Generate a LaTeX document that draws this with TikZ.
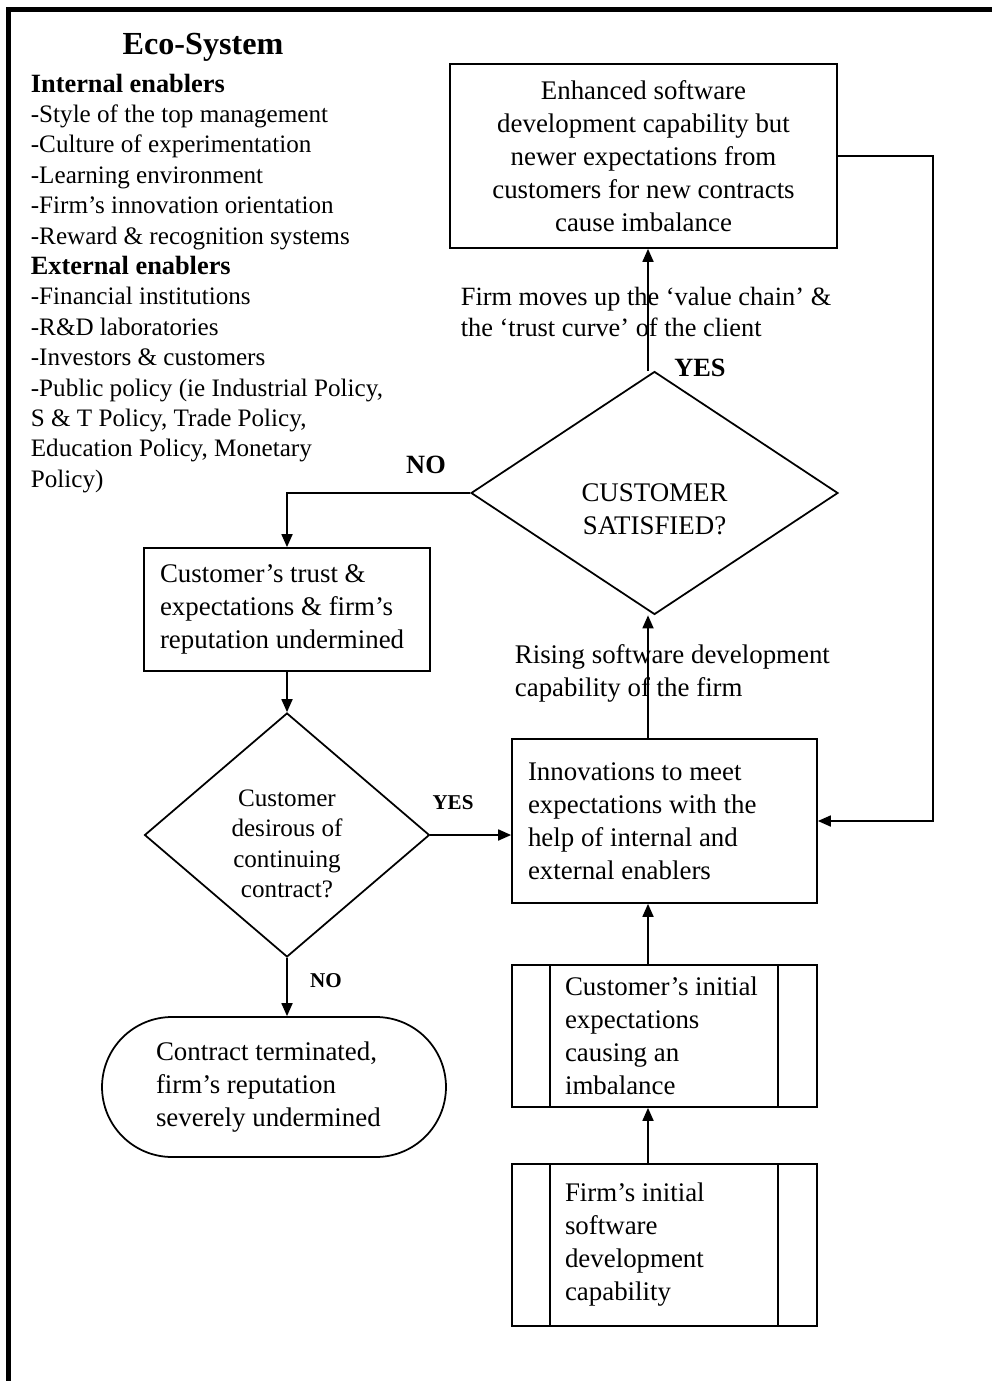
\documentclass[tikz,border=0pt]{standalone}
\usepackage{fontspec}
\setmainfont{Liberation Serif}
\usetikzlibrary{arrows.meta, positioning, shapes.geometric}
\newcommand{\boxfont}{\fontsize{15.3}{18.8}\selectfont}
\newcommand{\listfont}{\fontsize{14.3}{17.3}\selectfont}
\tikzset{
  box/.style={draw, rectangle, font=\boxfont, inner sep=0pt},
  process/.style={box, align=flush left, text width=3.98cm, inner xsep=1.06cm, path picture={
      \draw ([xshift=0.76cm]path picture bounding box.north west) -- ([xshift=0.76cm]path picture bounding box.south west);
      \draw ([xshift=-0.78cm]path picture bounding box.north east) -- ([xshift=-0.78cm]path picture bounding box.south east);}},
  decision/.style={draw, diamond, inner sep=0pt},
  arrowlabel/.style={font=\boxfont, align=left, inner sep=0pt},
  answer/.style={font=\fontsize{15}{17}\selectfont\bfseries, inner sep=0pt},
  answersmall/.style={font=\fontsize{12}{14}\selectfont\bfseries, inner sep=0pt}
}

\begin{document}
\begin{tikzpicture}[x=0.02cm, y=-0.02cm, line width=1pt, >={Triangle[length=0.26cm,width=0.22cm]}]
\useasboundingbox (0,0) rectangle (992,1381);
%frame
\draw[line width=0.1cm] (8.5,1381) -- (8.5,9.5) -- (992,9.5);
%eco-system list
\node[font=\fontsize{18.3}{22}\selectfont\bfseries, inner sep=0pt] (eco) at (203,47) {Eco-System};
\node[font=\listfont, align=left, anchor=north west, inner sep=0pt] (enablers) at (30,73) {{\fontsize{15}{17.3}\selectfont\bfseries Internal enablers}\\-Style of the top management\\-Culture of experimentation\\-Learning environment\\-Firm's innovation orientation\\-Reward \& recognition systems\\{\fontsize{15}{17.3}\selectfont\bfseries External enablers}\\-Financial institutions\\-R\&D laboratories\\-Investors \& customers\\-Public policy (ie Industrial Policy,\\S \& T Policy, Trade Policy,\\Education Policy, Monetary\\Policy)};
%boxes and decisions
\node[box, align=center, minimum width=7.74cm, minimum height=3.68cm] (enhanced) at (643.5,156) {Enhanced software\\development capability but\\newer expectations from\\customers for new contracts\\cause imbalance};
\node[decision, minimum width=7.34cm, minimum height=4.86cm] (satisfied) at (654.5,493) {};
\node[font=\boxfont, align=center, inner sep=0pt] (satisfiedtext) at (654.5,509) {CUSTOMER\\SATISFIED?};
\node[box, align=flush left, text width=5.08cm, inner xsep=0.32cm, minimum height=2.46cm] (trust) at (287,609.5) {Customer's trust \&\\expectations \& firm's\\reputation undermined};
\node[decision, minimum width=5.7cm, minimum height=4.88cm] (desirous) at (287,835) {};
\node[font=\listfont, align=center, inner sep=0pt] (desiroustext) at (287,844) {Customer\\desirous of\\continuing\\contract?};
\node[box, rounded corners=1.4cm, align=flush left, text width=4.72cm, inner xsep=1.08cm, minimum height=2.8cm] (terminated) at (274,1087) {Contract terminated,\\firm's reputation\\severely undermined};
\node[box, align=flush left, text width=5.46cm, inner xsep=0.32cm, minimum height=3.28cm] (innovations) at (664.5,821) {Innovations to meet\\expectations with the\\help of internal and\\external enablers};
\node[process, minimum height=2.84cm] (custinitial) at (664.5,1036) {Customer's initial\\expectations\\causing an\\imbalance};
\node[process, minimum height=3.24cm] (firminitial) at (664.5,1245) {Firm's initial\\software\\development\\capability};
%labels
\node[arrowlabel, font=\fontsize{15}{17.2}\selectfont, anchor=west] (chain) at (460,312) {Firm moves up the `value chain' \&\\the `trust curve' of the client};
\node[arrowlabel, anchor=west] (rising) at (514,673) {Rising software development\\capability of the firm};
\node[answer] (yestop) at (700,368) {YES};
\node[answer] (notop) at (426,465) {NO};
\node[answersmall] (yesbottom) at (453,803) {YES};
\node[answersmall] (nobottom) at (326,981) {NO};
%connectors
\coordinate (spine) at (648,0);
\coordinate (loop) at (933,0);
\draw[->] (satisfied.north -| spine) -- (enhanced.south -| spine);
\draw[->] (innovations.north -| spine) -- (satisfied.south -| spine);
\draw[->] (custinitial.north -| spine) -- (innovations.south -| spine);
\draw[->] (firminitial.north -| spine) -- (custinitial.south -| spine);
\draw[->] (enhanced.east) -| (loop |- innovations.east) -- (innovations.east);
\draw[->] (satisfied.west) -| (trust.north);
\draw[->] (trust.south) -- (desirous.north);
\draw[->] (desirous.east) -- (desirous.east -| innovations.west);
\draw[->] (desirous.south) -- (desirous.south |- terminated.north);
\end{tikzpicture}
\end{document}
